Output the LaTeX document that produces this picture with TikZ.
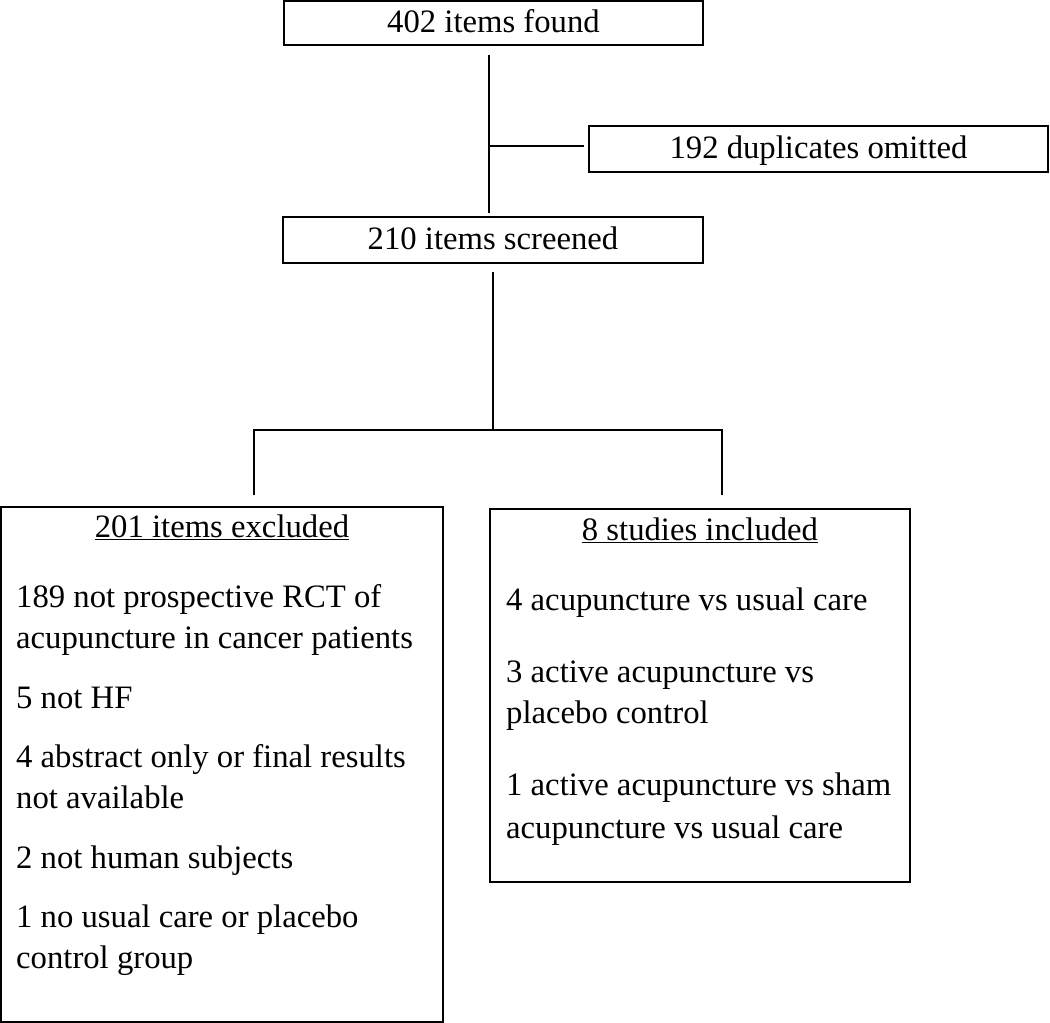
\documentclass[tikz,border=0pt]{standalone}
\usepackage{fontspec}
\setmainfont{Liberation Serif}
\begin{document}
\begin{tikzpicture}[x=1pt,y=-1pt,
  box/.style={draw=black, line width=1.7pt, inner sep=0pt, align=center},
  conn/.style={line width=1.9pt, draw=black},
  txt/.style={anchor=base west, inner sep=0pt},
  head/.style={anchor=base, inner sep=0pt},
  font=\fontsize{32.7}{41}\selectfont]
\useasboundingbox (0,0) rectangle (1050,1023);
% top boxes
\node[box, minimum width=419pt, minimum height=44pt, text height=18pt, text depth=0pt] (found) at (493.5,23) {402 items found};
\node[box, minimum width=459pt, minimum height=46pt, text height=18pt, text depth=0pt] (dup) at (818.5,149) {192 duplicates omitted};
\node[box, minimum width=420pt, minimum height=46pt, text height=18pt, text depth=0pt] (screen) at (493,240) {210 items screened};
% bottom boxes
\node[box, minimum width=442pt, minimum height=515pt] (excl) at (222,764.5) {};
\node[box, minimum width=420pt, minimum height=373pt] (incl) at (700,695.5) {};
% connectors
\coordinate (a1) at (489,55);
\coordinate (a2) at (489,213);
\coordinate (a3) at (489,146);
\coordinate (a4) at (584,146);
\draw[conn] (a1) -- (a2);
\draw[conn] (a3) -- (a4);
\coordinate (b1) at (493,272);
\coordinate (b2) at (493,430);
\coordinate (bl) at (254,430);
\coordinate (br) at (722,430);
\coordinate (bl2) at (254,495);
\coordinate (br2) at (722,495);
\draw[conn] (b1) -- (b2);
\draw[conn] (bl2) -- (bl) -- (br) -- (br2);
% left box text
\node[head] (eh) at (222,537) {\underline{201 items excluded}};
\node[txt] (e1) at (16,607) {189 not prospective RCT of};
\node[txt] (e1b) at (16,648) {acupuncture in cancer patients};
\node[txt] (e2) at (16,708) {5 not HF};
\node[txt] (e3) at (16,767) {4 abstract only or final results};
\node[txt] (e3b) at (16,808) {not available};
\node[txt] (e4) at (16,868) {2 not human subjects};
\node[txt] (e5) at (16,927) {1 no usual care or placebo};
\node[txt] (e5b) at (16,968) {control group};
% right box text
\node[head] (ih) at (700,540) {\underline{8 studies included}};
\node[txt] (i1) at (506,610) {4 acupuncture vs usual care};
\node[txt] (i2) at (506,682) {3 active acupuncture vs};
\node[txt] (i2b) at (506,723) {placebo control};
\node[txt] (i3) at (506,795) {1 active acupuncture vs sham};
\node[txt] (i3b) at (506,838) {acupuncture vs usual care};
\end{tikzpicture}
\end{document}
